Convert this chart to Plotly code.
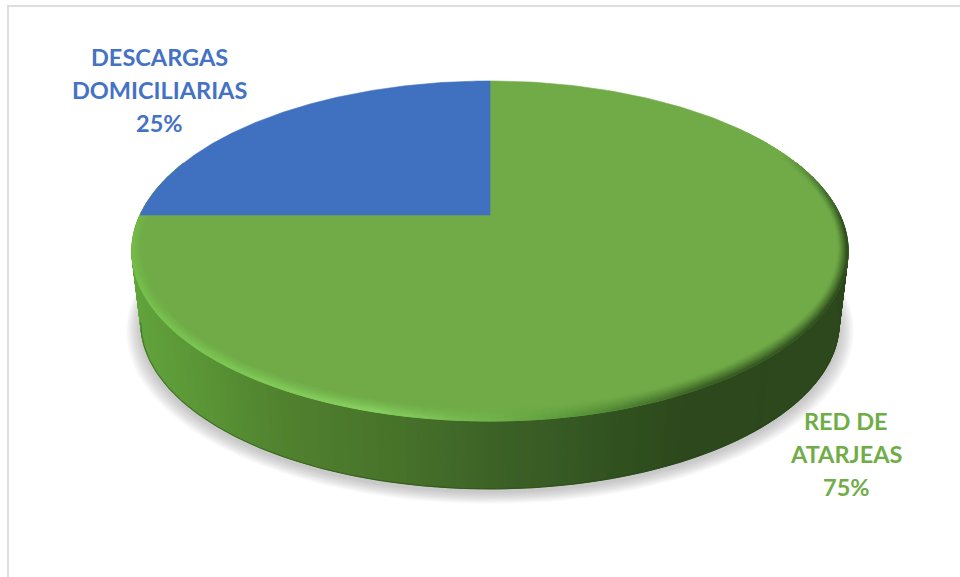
import numpy as np
import plotly.graph_objects as go

# Chart data
CATEGORIES = ["RED DE ATARJEAS", "DESCARGAS DOMICILIARIAS"]
VALUES = [75, 25]
LABEL_LINES = [["RED DE", "ATARJEAS"], ["DESCARGAS", "DOMICILIARIAS"]]

# Styling
FACE_COLORS = ["#70ab47", "#4070c0"]
TEXT_COLORS = ["#70ad47", "#4472c4"]
FONT = "Lato"
LABEL_CENTRES = [(846, 454), (159, 90)]
LINE_STEP = 32.7

# Perspective disc: pixel centre, half axes and foreshortening
CX, CY = 490.0, 215.0
A, B, K = 350.0, 162.4, 0.2118
DEPTH_Y, DEPTH_SCALE = 73.0, 0.975


def project(deg, rx=1.0, ry=1.0, scale=1.0, dy=0.0):
    t = np.radians(deg)
    X, Y = rx * np.cos(t), ry * np.sin(t)
    w = 1 + K * Y
    return CX + scale * A * X / w, CY + dy - scale * B * Y / w


def hex_rgb(h):
    return np.array([int(h[i:i + 2], 16) for i in (1, 3, 5)], float)


def ramp(v, stops):
    xs = [s[0] for s in stops]
    cols = np.array([hex_rgb(s[1]) for s in stops])
    return np.array([np.interp(v, xs, cols[:, i]) for i in range(3)])


def css(rgb):
    q = np.clip(np.round(np.asarray(rgb) / 2) * 2, 0, 255).astype(int)
    return f"rgb({q[0]},{q[1]},{q[2]})"


fig = go.Figure()


def emit(groups):
    for colour, polys in groups.items():
        xs, ys = [], []
        for px, py in polys:
            xs += list(px) + [px[0], None]
            ys += list(py) + [py[0], None]
        fig.add_trace(go.Scatter(x=xs, y=ys, mode="lines", fill="toself", fillcolor=colour,
                                 line=dict(color=colour, width=1), hoverinfo="skip",
                                 showlegend=False))


# Soft drop shadow beneath the disc
full = np.linspace(0, 360, 241)
for i in range(12, 0, -1):
    sx, sy = project(full, scale=DEPTH_SCALE * (1 + 0.0035 * i), dy=DEPTH_Y + 3 + 0.3 * i)
    fig.add_trace(go.Scatter(x=sx, y=sy, mode="lines", fill="toself",
                             fillcolor="rgba(110,110,115,0.035)", line=dict(width=0),
                             hoverinfo="skip", showlegend=False))

# Side wall, shaded left to right
WALL_STOPS = [(133, "#62a33c"), (200, "#5a9536"), (260, "#528630"), (300, "#4f7f2e"),
              (400, "#47722a"), (490, "#3c6226"), (560, "#375a24"), (620, "#30511f"),
              (700, "#2c471b"), (847, "#2c471b")]
groups = {}
edges = np.linspace(-200, 20, 441)
for t0, t1 in zip(edges[:-1], edges[1:]):
    x0, y0 = project(t0)
    x1, y1 = project(t1)
    x2, y2 = project(t1, scale=DEPTH_SCALE, dy=DEPTH_Y)
    x3, y3 = project(t0, scale=DEPTH_SCALE, dy=DEPTH_Y)
    groups.setdefault(css(ramp((x0 + x1) / 2, WALL_STOPS)), []).append(([x0, x1, x2, x3], [y0, y1, y2, y3]))
emit(groups)

# Thin darker line along the lower wall edge
ex, ey = project(np.linspace(-168, -12, 241), scale=DEPTH_SCALE, dy=DEPTH_Y)
fig.add_trace(go.Scatter(x=ex, y=ey, mode="lines", line=dict(color="rgba(35,70,20,0.45)", width=1.2),
                         hoverinfo="skip", showlegend=False))

# Bevel along the rim of the large slice: highlight lower left, shadow lower right
RIM_STOPS = [(-190, "#70ab47"), (-180, "#74b84a"), (-160, "#75c04b"), (-130, "#7ec956"),
             (-105, "#88d261"), (-90, "#72b44c"), (-80, "#5c9a3c"), (-60, "#365a22"),
             (-30, "#2c481b"), (-5, "#2c481b"), (8, "#3f6a2a"), (25, "#70ab47"), (40, "#70ab47")]


def draw_bevel():
    face = hex_rgb(FACE_COLORS[0])
    groups = {}
    steps = np.linspace(0.0, 1.0, 10)
    edges = np.linspace(-180, 35, 216)
    for s0, s1 in zip(steps[:-1], steps[1:]):
        rx0, ry0 = 0.974 + 0.026 * s0, 0.95 + 0.05 * s0
        rx1, ry1 = 0.974 + 0.026 * s1, 0.95 + 0.05 * s1
        mix = ((s0 + s1) / 2) ** 1.2
        for t0, t1 in zip(edges[:-1], edges[1:]):
            rim = ramp((t0 + t1) / 2, RIM_STOPS)
            a, b = project(t0, rx0, ry0), project(t1, rx0, ry0)
            c, d = project(t1, rx1, ry1), project(t0, rx1, ry1)
            groups.setdefault(css(face + (rim - face) * mix), []).append(
                ([a[0], b[0], c[0], d[0]], [a[1], b[1], c[1], d[1]]))
    emit(groups)


# Pie slices, running clockwise from twelve o'clock
total = sum(VALUES)
start = 90.0
for idx, (name, value, colour) in enumerate(zip(CATEGORIES, VALUES, FACE_COLORS)):
    stop = start - 360.0 * value / total
    px, py = project(np.linspace(start, stop, 241))
    fig.add_trace(go.Scatter(x=[CX, *px, CX], y=[CY, *py, CY], mode="lines", fill="toself",
                             fillcolor=colour, line=dict(color=colour, width=0.6), name=name,
                             hoverinfo="name", showlegend=False))
    if idx == 0:
        draw_bevel()
    start = stop

# Data labels, one annotation per line for exact leading
annotations = []
for lines, value, colour, (ax, ay) in zip(LABEL_LINES, VALUES, TEXT_COLORS, LABEL_CENTRES):
    for row, text in enumerate(lines + [f"{value}%"]):
        annotations.append(dict(x=ax, y=ay + (row - 1) * LINE_STEP, xref="x", yref="y",
                                showarrow=False, align="center", text=text,
                                font=dict(family=FONT, size=23.5, color=colour, weight="bold")))

fig.update_layout(
    width=960, height=577, margin=dict(l=0, r=0, t=0, b=0), autosize=False,
    paper_bgcolor="white", plot_bgcolor="white", annotations=annotations,
    xaxis=dict(range=[0, 960], visible=False, fixedrange=True),
    yaxis=dict(range=[577, 0], visible=False, fixedrange=True),
    shapes=[
        dict(type="line", xref="x", yref="y", x0=7, x1=960, y0=6, y1=6, line=dict(color="#dedede", width=2)),
        dict(type="line", xref="x", yref="y", x0=8, x1=8, y0=5, y1=577, line=dict(color="#dedede", width=2)),
    ],
)
fig.write_html("out.html", config=dict(displayModeBar=False))
